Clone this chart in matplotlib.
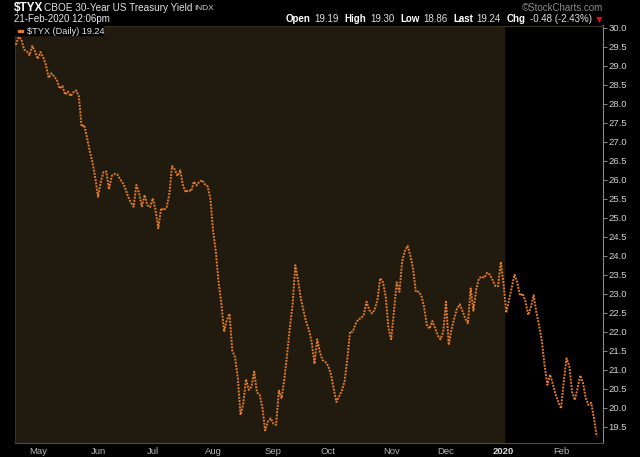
"""
$TYX daily chart, StockCharts style.
"""

import matplotlib
matplotlib.use('Agg')
import matplotlib.pyplot as plt
import pandas as pd

# market holidays between Apr 2019 and Feb 2020
HOLIDAYS = ['2019-04-19', '2019-05-27', '2019-07-04', '2019-09-02', '2019-11-28',
            '2019-12-25', '2020-01-01', '2020-01-20', '2020-02-17']

# daily closes (yield x10), one list per month
apr = [29.55, 29.76, 29.70, 29.43, 29.38, 29.28, 29.52, 29.38]
may = [29.18, 29.36, 29.22, 29.02, 28.68, 28.80, 28.72, 28.62, 28.40, 28.47, 28.24,
       28.32, 28.20, 28.30, 28.35, 28.20, 27.40, 27.44, 27.10, 26.75, 26.45, 26.05]
jun = [25.55, 25.94, 26.20, 26.22, 25.75, 26.10, 26.15, 26.14, 26.02, 25.92, 25.76,
       25.55, 25.40, 25.29, 25.86, 25.64, 25.30, 25.60, 25.33, 25.28]
jul = [25.51, 25.20, 24.72, 25.25, 25.20, 25.27, 25.60, 26.36, 26.27, 26.10, 26.25,
       25.85, 25.67, 25.73, 25.70, 25.95, 25.85, 25.95, 25.99, 25.88, 25.83, 25.50]
aug = [24.65, 24.10, 23.30, 22.75, 22.00, 22.30, 22.47, 21.50, 21.33, 20.80, 19.81,
       20.10, 20.75, 20.47, 20.55, 20.95, 20.40, 20.34, 20.00, 19.40, 19.63, 19.72]
sep = [19.58, 19.55, 20.45, 20.25, 20.75, 21.40, 22.10, 22.70, 23.75, 23.35, 22.88,
       22.55, 22.25, 22.04, 21.72, 21.15, 21.80, 21.45, 21.25, 21.20]
oct_ = [21.10, 20.88, 20.50, 20.15, 20.30, 20.45, 20.70, 21.30, 22.00, 22.00, 22.20,
        22.33, 22.35, 22.45, 22.79, 22.57, 22.48, 22.58, 22.85, 23.41, 23.30, 22.92, 22.10]
nov = [21.80, 22.53, 23.30, 23.05, 23.85, 24.13, 24.26, 24.00, 23.65, 23.05, 23.05,
       22.95, 22.65, 22.18, 22.08, 22.28, 22.10, 21.90, 21.80, 22.00]
dec = [22.79, 21.65, 22.05, 22.35, 22.60, 22.72, 22.55, 22.35, 22.22, 23.14, 22.55,
       23.10, 23.40, 23.45, 23.42, 23.55, 23.50, 23.36, 23.20, 23.20, 23.84]
jan = [23.27, 22.50, 22.83, 23.15, 23.50, 23.30, 22.95, 23.00, 22.80, 22.44, 22.65,
       22.96, 22.50, 22.15, 21.75, 21.10, 20.60, 20.87, 20.62, 20.35, 20.15]
feb = [19.98, 20.70, 21.30, 21.10, 20.42, 20.20, 20.50, 20.85, 20.65, 20.25, 20.07,
       20.13, 19.72, 19.24]

month_labels = ['May', 'Jun', 'Jul', 'Aug', 'Sep', 'Oct', 'Nov', 'Dec', '2020', 'Feb']
yticks = [19.5 + 0.5 * k for k in range(22)]

quote_labels = ['Open', 'High', 'Low', 'Last', 'Chg']
quote_values = ['19.19', '19.30', '18.86', '19.24', '-0.48 (-2.43%)']

ORANGE = '#e47c2c'
BROWN = '#201a0f'


def px(x, y):
    return x / 640.0, 1 - y / 457.0


def main():
    dates = pd.bdate_range('2019-04-18', '2020-02-21', freq='C', holidays=HOLIDAYS)
    values = apr + may + jun + jul + aug + sep + oct_ + nov + dec + jan + feb
    idx = list(range(len(dates)))

    # first trading day of each month, from May on
    months = pd.Series(idx, index=dates).groupby([dates.year, dates.month]).first()
    month_pos = list(months.values[1:])
    year_start = month_pos[8]

    plt.rcParams['font.family'] = ['Liberation Sans', 'DejaVu Sans']
    fig = plt.figure(figsize=(6.4, 4.57), dpi=100, facecolor='black')
    ax = fig.add_axes([15 / 640, 1 - 443 / 457, 588 / 640, 417.5 / 457])
    ax.set_facecolor('black')
    ax.axvspan(-1, year_start, color=BROWN, zorder=0)

    ax.plot(idx, values, color=ORANGE, lw=1.4, linestyle=(0, (1, 0.65)),
            solid_capstyle='butt', zorder=3)

    ax.set_xlim(-0.3, 214.3)
    ax.set_ylim(19.07, 30.06)

    for s in ['top', 'left']:
        ax.spines[s].set_color('#3a3020')
        ax.spines[s].set_linewidth(0.8)
    ax.spines['bottom'].set_color('#5a4a30')
    ax.spines['bottom'].set_linestyle((0, (1, 1)))
    ax.spines['right'].set_color('#8a8a8a')
    ax.spines['right'].set_linewidth(0.8)

    ax.yaxis.tick_right()
    ax.set_yticks(yticks)
    ax.set_yticklabels(['%.1f' % v for v in yticks])
    ax.tick_params(axis='y', colors='#9a9a9a', labelcolor='#d2d2d2', labelsize=6.8,
                   length=3, width=0.6, pad=1)

    ax.set_xticks(month_pos)
    ax.set_xticklabels(month_labels)
    ax.tick_params(axis='x', length=0, pad=3, labelsize=6.8, labelcolor='#b4b4b4')
    for lab in ax.get_xticklabels():
        if lab.get_text() == '2020':
            lab.set_fontweight('bold')
            lab.set_color('#dcdcdc')

    # legend tag in the top-left corner
    fig.patches.append(plt.Rectangle(px(15, 35), 88 / 640, 9 / 457, color='black',
                                     transform=fig.transFigure, zorder=5))
    for x in (17.5, 21):
        fig.patches.append(plt.Rectangle(px(x, 32), 2 / 640, 2 / 457, color=ORANGE,
                                         transform=fig.transFigure, zorder=6))
    fig.text(*px(27, 31), '$TYX (Daily) 19.24', color='#e6e6e6', fontsize=6.6,
             va='center', zorder=6)

    # header
    fig.text(*px(14, 8), '$TYX', color='white', fontsize=8.5, fontweight='bold', va='center')
    fig.text(*px(44, 8), 'CBOE 30-Year US Treasury Yield', color='#e0e0e0', fontsize=7.2,
             va='center')
    fig.text(*px(194, 8), 'INDX', color='#d0d0d0', fontsize=6, va='center')
    fig.text(*px(14, 19.5), '21-Feb-2020 12:06pm', color='#e8e8e8', fontsize=7, va='center')
    fig.text(*px(603, 8), '\u00a9StockCharts.com', color='#8c8c8c', fontsize=7,
             ha='right', va='center')

    # quote line, laid out piece by piece from the left
    renderer = fig.canvas.get_renderer()
    x = 286.0
    for lab, val in zip(quote_labels, quote_values):
        t = fig.text(*px(x, 19.5), lab, color='white', fontsize=7, fontweight='bold',
                     va='center')
        x = t.get_window_extent(renderer).x1 + 3.5
        t = fig.text(*px(x, 19.5), val, color='#e0e0e0', fontsize=7, va='center')
        x = t.get_window_extent(renderer).x1 + 6
    fig.text(*px(599, 20), '\u25bc', color='#e01010', fontsize=6, ha='center',
             va='center', family='DejaVu Sans')

    fig.savefig('out.png', dpi=100, facecolor='black')


if __name__ == "__main__":
    main()
